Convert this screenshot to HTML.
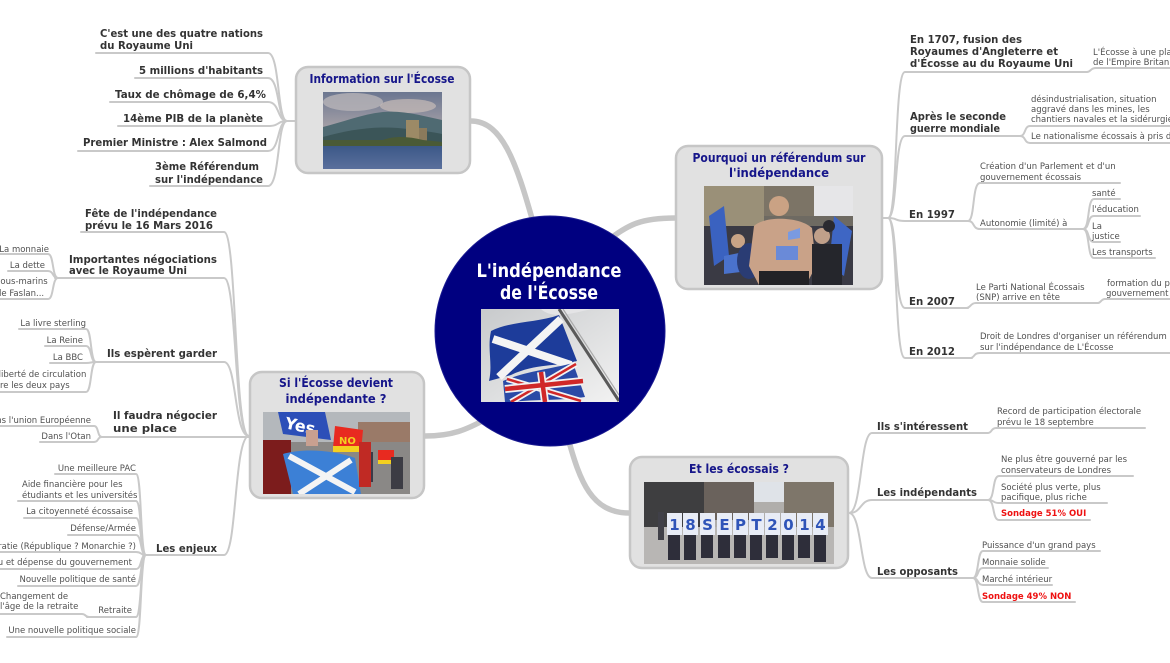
<!DOCTYPE html>
<html><head><meta charset="utf-8">
<style>
html,body{margin:0;padding:0;background:#fff;}
svg{display:block;}
.h{font-family:"DejaVu Sans","Liberation Sans",sans-serif;font-weight:bold;font-size:10.5px;fill:#333;}
.s{font-family:"DejaVu Sans","Liberation Sans",sans-serif;font-size:8.5px;fill:#505050;}
.r{font-family:"DejaVu Sans","Liberation Sans",sans-serif;font-weight:bold;font-size:8.5px;fill:#ee1111;}
.t{font-family:"DejaVu Sans","Liberation Sans",sans-serif;font-weight:bold;font-size:12.5px;fill:#16168a;}
.c{font-family:"DejaVu Sans","Liberation Sans",sans-serif;font-size:19px;fill:#fff;font-weight:600;}
.ln{fill:none;stroke:#c9c9c9;stroke-width:2;stroke-linecap:round;}
.th{fill:none;stroke:#c6c6c6;stroke-width:5.5;stroke-linecap:round;}
.e{text-anchor:end;}
</style></head>
<body>
<svg width="1170" height="663" viewBox="0 0 1170 663" xmlns="http://www.w3.org/2000/svg">
<defs>
<linearGradient id="sky1" x1="0" y1="0" x2="0" y2="1"><stop offset="0" stop-color="#6b7690"/><stop offset="0.5" stop-color="#a9a3a8"/><stop offset="1" stop-color="#c4b6a8"/></linearGradient>
<linearGradient id="wat" x1="0" y1="0" x2="0" y2="1"><stop offset="0" stop-color="#3c5888"/><stop offset="1" stop-color="#5a6f9c"/></linearGradient>
<linearGradient id="sky2" x1="0" y1="0" x2="1" y2="1"><stop offset="0" stop-color="#c8cacc"/><stop offset="1" stop-color="#f2f2f2"/></linearGradient>
</defs>

<!-- thick main connectors -->
<path class="th" d="M471,121 C502,121 516,162 533,222"/>
<path class="th" d="M675,218 C642,218 628,224 606,242"/>
<path class="th" d="M425,436 C452,436 466,430 488,418"/>
<path class="th" d="M568,438 C580,482 592,513 629,513"/>

<!-- Info children connectors -->
<path class="ln" d="M295,121 H284"/>
<path class="ln" d="M96,53 H268 C280,53 277,121 287,121"/>
<path class="ln" d="M135,78 H268 C280,78 277,121 287,121"/>
<path class="ln" d="M110,102 H268 C280,102 277,121 287,121"/>
<path class="ln" d="M118,126 H268 C280,126 277,121 287,121"/>
<path class="ln" d="M78,151 H268 C280,151 277,121 287,121"/>
<path class="ln" d="M150,186 H268 C280,186 277,121 287,121"/>

<!-- Si children connectors -->
<path class="ln" d="M81,232 H224 C237,232 234,436 249,436"/>
<path class="ln" d="M55,278 H224 C237,278 234,436 249,436"/>
<path class="ln" d="M93,362 H224 C237,362 234,436 249,436"/>
<path class="ln" d="M100,437 H249"/>
<path class="ln" d="M143,555 H224 C237,555 234,436 249,436"/>
<!-- Importantes subs -->
<path class="ln" d="M0,254 H48 C54,254 52,278 58,278"/>
<path class="ln" d="M8,271 H48 C54,271 52,278 58,278"/>
<path class="ln" d="M0,299 H48 C54,299 52,278 58,278"/>
<!-- Ils espèrent subs -->
<path class="ln" d="M19,329 H86 C92,329 90,362 96,362"/>
<path class="ln" d="M45,346 H86 C92,346 90,362 96,362"/>
<path class="ln" d="M50,363 H86 C92,363 90,362 96,362"/>
<path class="ln" d="M0,392 H86 C92,392 90,362 96,362"/>
<!-- Il faudra subs -->
<path class="ln" d="M0,426 H94 C99,426 97,437 102,437"/>
<path class="ln" d="M40,442 H94 C99,442 97,437 102,437"/>
<!-- Les enjeux subs -->
<path class="ln" d="M55,474 H136 C142,474 140,555 146,555"/>
<path class="ln" d="M18,501 H136 C142,501 140,555 146,555"/>
<path class="ln" d="M24,518 H136 C142,518 140,555 146,555"/>
<path class="ln" d="M68,535 H136 C142,535 140,555 146,555"/>
<path class="ln" d="M0,552 H136 C142,552 140,555 146,555"/>
<path class="ln" d="M0,569 H136 C142,569 140,555 146,555"/>
<path class="ln" d="M18,586 H136 C142,586 140,555 146,555"/>
<path class="ln" d="M87,617 H136 C142,617 140,555 146,555"/>
<path class="ln" d="M7,637 H136 C142,637 140,555 146,555"/>
<path class="ln" d="M0,614 H82 C86,614 85,617 89,617"/>

<!-- Pourquoi children connectors -->
<path class="ln" d="M883,218 H889"/>
<path class="ln" d="M888,218 C898,218 894,72 905,72 H1087 C1091,72 1090,68 1096,68 H1170"/>
<path class="ln" d="M888,218 C898,218 894,136 905,136 H1022"/>
<path class="ln" d="M888,218 C898,218 894,221 905,221 H970"/>
<path class="ln" d="M888,218 C898,218 894,308 905,308 H968"/>
<path class="ln" d="M888,218 C898,218 894,358 905,358 H972"/>
<path class="ln" d="M1020,136 C1026,136 1024,126 1030,126 H1170"/>
<path class="ln" d="M1020,136 C1026,136 1024,143 1030,143 H1170"/>
<path class="ln" d="M968,221 C975,221 972,183 980,183 H1120"/>
<path class="ln" d="M968,221 C975,221 972,229 980,229 H1085"/>
<path class="ln" d="M1083,229 C1090,229 1087,199 1094,199 H1120"/>
<path class="ln" d="M1083,229 C1090,229 1087,216 1094,216 H1140"/>
<path class="ln" d="M1083,229 C1090,229 1087,242 1094,242 H1120"/>
<path class="ln" d="M1083,229 C1090,229 1087,258 1094,258 H1155"/>
<path class="ln" d="M966,308 C971,308 970,303 976,303 H1098 C1101,303 1101,299 1105,299 H1170"/>
<path class="ln" d="M970,358 C975,358 973,353 980,353 H1170"/>

<!-- Et children connectors -->
<path class="ln" d="M849,513 C862,513 860,433 872,433 H988 C992,433 991,428 996,428 H1145"/>
<path class="ln" d="M849,513 C862,513 860,500 872,500 H990"/>
<path class="ln" d="M849,513 C862,513 860,578 872,578 H975"/>
<path class="ln" d="M988,500 C995,500 992,476 999,476 H1133"/>
<path class="ln" d="M988,500 C995,500 992,503 999,503 H1107"/>
<path class="ln" d="M988,500 C995,500 992,520 999,520 H1090"/>
<path class="ln" d="M973,578 C979,578 977,551 983,551 H1100"/>
<path class="ln" d="M973,578 C979,578 977,568 983,568 H1048"/>
<path class="ln" d="M973,578 C979,578 977,585 983,585 H1052"/>
<path class="ln" d="M973,578 C979,578 977,602 983,602 H1075"/>

<!-- Central circle -->
<circle cx="550" cy="331" r="115" fill="#000080" stroke="#1a1a90" stroke-width="1"/>
<text class="c" x="549" y="277" text-anchor="middle" textLength="145" lengthAdjust="spacingAndGlyphs">L'indépendance</text>
<text class="c" x="549" y="299" text-anchor="middle" textLength="98" lengthAdjust="spacingAndGlyphs">de l'Écosse</text>
<svg x="481" y="309" width="138" height="93">
 <rect width="138" height="93" fill="url(#sky2)"/>
 <path d="M0,0 H60 C70,10 90,5 110,0 H0 Z" fill="#e4e4e6"/>
 <path d="M10,22 C30,12 55,14 78,6 L96,52 C75,58 55,54 30,66 L8,72 C12,55 6,40 10,22 Z" fill="#1d3c9a"/>
 <path d="M12,30 L90,56 M80,10 L18,68" stroke="#f4f4f4" stroke-width="8"/>
 <path d="M22,72 C45,62 70,60 92,54 L104,88 C80,92 55,90 30,93 L24,93 Z" fill="#2a4aa6"/>
 <path d="M26,70 L100,92 M95,55 L30,93" stroke="#f2f2f2" stroke-width="6"/>
 <path d="M26,70 L100,92 M95,55 L30,93" stroke="#d02828" stroke-width="2.5"/>
 <path d="M60,63 L64,93 M24,80 L102,72" stroke="#f2f2f2" stroke-width="8"/>
 <path d="M60,63 L64,93 M24,80 L102,72" stroke="#d02828" stroke-width="4.5"/>
 <line x1="78" y1="0" x2="138" y2="92" stroke="#5a5a5a" stroke-width="3"/>
 <line x1="82" y1="0" x2="138" y2="86" stroke="#aaaaaa" stroke-width="1.2"/>
</svg>

<!-- Information node -->
<rect x="296" y="67" width="174" height="106" rx="12" ry="12" fill="#e1e1e1" stroke="#c6c6c6" stroke-width="2.5"/>
<text class="t" x="382" y="83" text-anchor="middle" textLength="145" lengthAdjust="spacingAndGlyphs">Information sur l'Écosse</text>
<svg x="323" y="92" width="119" height="77">
 <rect width="119" height="77" fill="url(#sky1)"/>
 <ellipse cx="30" cy="10" rx="30" ry="9" fill="#b8b4b8" opacity="0.8"/>
 <ellipse cx="85" cy="14" rx="28" ry="7" fill="#c8bcb8" opacity="0.7"/>
 <path d="M0,35 C20,30 40,22 60,20 C80,18 100,24 119,28 V55 H0 Z" fill="#4f6a72"/>
 <path d="M0,45 C25,38 50,34 75,36 C95,38 110,40 119,42 V55 H0 Z" fill="#3b5558"/>
 <rect x="83" y="28" width="13" height="22" fill="#9c8a66"/>
 <rect x="96" y="36" width="8" height="14" fill="#8a7a5c"/>
 <path d="M0,48 H60 C70,44 85,44 100,48 L119,50 V55 H0 Z" fill="#4a5a36"/>
 <rect x="0" y="54" width="119" height="23" fill="url(#wat)"/>
</svg>

<!-- Pourquoi node -->
<rect x="676" y="146" width="206" height="143" rx="12" ry="12" fill="#e1e1e1" stroke="#c6c6c6" stroke-width="2.5"/>
<text class="t" x="779" y="162" text-anchor="middle" textLength="173" lengthAdjust="spacingAndGlyphs">Pourquoi un référendum sur</text>
<text class="t" x="779" y="177" text-anchor="middle" textLength="100" lengthAdjust="spacingAndGlyphs">l'indépendance</text>
<svg x="704" y="186" width="149" height="99">
 <rect width="149" height="99" fill="#6e6a62"/>
 <rect x="0" y="0" width="60" height="40" fill="#9a9078"/>
 <rect x="60" y="0" width="50" height="30" fill="#7c7466"/>
 <rect x="110" y="0" width="39" height="30" fill="#e6e6e8"/>
 <rect x="0" y="40" width="149" height="59" fill="#3a3a44"/>
 <path d="M5,30 L20,20 L25,70 L10,80 Z" fill="#3a62c0"/>
 <path d="M130,30 L148,45 L140,90 L125,80 Z" fill="#3e66c4"/>
 <path d="M20,70 L45,65 L45,85 L20,88 Z" fill="#4a72cc"/>
 <circle cx="34" cy="55" r="7" fill="#c9a486"/>
 <ellipse cx="45" cy="75" rx="12" ry="18" fill="#2a3c74"/>
 <circle cx="75" cy="20" r="10" fill="#caa284"/>
 <path d="M50,40 C60,30 95,30 108,42 L112,80 L102,99 H55 L45,80 Z" fill="#c9a288"/>
 <rect x="72" y="60" width="22" height="14" fill="#6a8ad8"/>
 <path d="M84,46 L96,42 L96,52 L84,54 Z" fill="#7a9ae0"/>
 <rect x="55" y="85" width="50" height="14" fill="#222226"/>
 <circle cx="118" cy="50" r="8" fill="#c0a08a"/>
 <rect x="108" y="58" width="30" height="41" fill="#25262c"/>
 <circle cx="125" cy="40" r="6" fill="#2a2a30"/>
</svg>

<!-- Si node -->
<rect x="250" y="372" width="174" height="126" rx="12" ry="12" fill="#e1e1e1" stroke="#c6c6c6" stroke-width="2.5"/>
<text class="t" x="336" y="387" text-anchor="middle" textLength="114" lengthAdjust="spacingAndGlyphs">Si l'Écosse devient</text>
<text class="t" x="336" y="403" text-anchor="middle" textLength="101" lengthAdjust="spacingAndGlyphs">indépendante ?</text>
<svg x="263" y="412" width="147" height="82">
 <rect width="147" height="82" fill="#b4b8bc"/>
 <rect x="95" y="10" width="52" height="30" fill="#9a7a68"/>
 <rect x="0" y="30" width="147" height="52" fill="#8a8886"/>
 <rect x="0" y="28" width="28" height="54" fill="#7c1c1c"/>
 <path d="M15,0 L62,0 L68,28 L20,22 Z" fill="#2c4fb8"/>
 <text x="22" y="20" font-family="DejaVu Sans,sans-serif" font-weight="bold" font-size="16" fill="#fff" transform="rotate(12 40 14)">Yes</text>
 <rect x="43" y="18" width="12" height="16" fill="#c8a090"/>
 <path d="M72,14 L100,18 L98,40 L70,36 Z" fill="#e82a20"/>
 <rect x="70" y="34" width="28" height="6" fill="#f4d020"/>
 <text x="76" y="32" font-family="DejaVu Sans,sans-serif" font-weight="bold" font-size="10" fill="#f4d020">NO</text>
 <rect x="115" y="38" width="16" height="14" fill="#e82a20"/>
 <rect x="115" y="48" width="16" height="4" fill="#f4d020"/>
 <rect x="100" y="40" width="10" height="30" fill="#3a3a48"/>
 <rect x="128" y="45" width="12" height="32" fill="#3c3c44"/>
 <path d="M20,42 C40,36 70,38 92,46 L98,82 H30 Z" fill="#3c80d6"/>
 <path d="M26,44 L92,80 M88,48 L36,82" stroke="#f4f4f4" stroke-width="6"/>
 <rect x="96" y="30" width="12" height="45" fill="#c02a24"/>
</svg>

<!-- Et node -->
<rect x="630" y="457" width="218" height="111" rx="12" ry="12" fill="#e1e1e1" stroke="#c6c6c6" stroke-width="2.5"/>
<text class="t" x="739" y="473" text-anchor="middle" textLength="100" lengthAdjust="spacingAndGlyphs">Et les écossais ?</text>
<svg x="644" y="482" width="190" height="82">
 <rect width="190" height="82" fill="#b0aeab"/>
 <rect x="0" y="0" width="60" height="45" fill="#3e3e40"/>
 <rect x="60" y="0" width="50" height="38" fill="#6a625c"/>
 <rect x="110" y="0" width="30" height="20" fill="#dfe3e8"/>
 <rect x="140" y="0" width="50" height="45" fill="#7e766a"/>
 <rect x="0" y="45" width="190" height="37" fill="#b8b6b4"/>
 <rect x="14" y="30" width="6" height="28" fill="#404048"/>
 <g fill="#2e2e3a">
  <rect x="24" y="40" width="12" height="38"/><rect x="40" y="40" width="12" height="38"/><rect x="57" y="40" width="12" height="36"/>
  <rect x="74" y="40" width="12" height="36"/><rect x="90" y="40" width="12" height="36"/><rect x="106" y="40" width="12" height="38"/>
  <rect x="122" y="40" width="12" height="36"/><rect x="138" y="40" width="12" height="38"/><rect x="154" y="40" width="12" height="36"/>
  <rect x="170" y="40" width="12" height="40"/>
 </g>
 <g fill="#e8ecf6">
  <rect x="23" y="31" width="15" height="22"/><rect x="39" y="31" width="15" height="22"/><rect x="56" y="31" width="15" height="22"/>
  <rect x="73" y="31" width="15" height="22"/><rect x="89" y="31" width="15" height="22"/><rect x="105" y="31" width="15" height="22"/>
  <rect x="121" y="31" width="15" height="22"/><rect x="137" y="31" width="15" height="22"/><rect x="153" y="31" width="15" height="22"/>
  <rect x="169" y="31" width="15" height="22"/>
 </g>
 <g font-family="DejaVu Sans,sans-serif" font-weight="bold" font-size="15" fill="#2f54b8" text-anchor="middle">
  <text x="30.5" y="48">1</text><text x="46.5" y="48">8</text><text x="63.5" y="48">S</text><text x="80.5" y="48">E</text><text x="96.5" y="48">P</text>
  <text x="112.5" y="48">T</text><text x="128.5" y="48">2</text><text x="144.5" y="48">0</text><text x="160.5" y="48">1</text><text x="176.5" y="48">4</text>
 </g>
</svg>

<!-- Info child texts -->
<text class="h" x="100" y="37" textLength="163" lengthAdjust="spacingAndGlyphs">C'est une des quatre nations</text>
<text class="h" x="100" y="49" textLength="93" lengthAdjust="spacingAndGlyphs">du Royaume Uni</text>
<text class="h e" x="263" y="74" textLength="124" lengthAdjust="spacingAndGlyphs">5 millions d'habitants</text>
<text class="h e" x="266" y="98" textLength="151" lengthAdjust="spacingAndGlyphs">Taux de chômage de 6,4%</text>
<text class="h e" x="263" y="122" textLength="140" lengthAdjust="spacingAndGlyphs">14ème PIB de la planète</text>
<text class="h e" x="267" y="146" textLength="184" lengthAdjust="spacingAndGlyphs">Premier Ministre : Alex Salmond</text>
<text class="h" x="155" y="170" textLength="104" lengthAdjust="spacingAndGlyphs">3ème Référendum</text>
<text class="h" x="155" y="183" textLength="108" lengthAdjust="spacingAndGlyphs">sur l'indépendance</text>

<!-- Si child texts -->
<text class="h" x="85" y="217" textLength="132" lengthAdjust="spacingAndGlyphs">Fête de l'indépendance</text>
<text class="h" x="85" y="229" textLength="128" lengthAdjust="spacingAndGlyphs">prévu le 16 Mars 2016</text>
<text class="h" x="69" y="263" textLength="148" lengthAdjust="spacingAndGlyphs">Importantes négociations</text>
<text class="h" x="69" y="274" textLength="118" lengthAdjust="spacingAndGlyphs">avec le Royaume Uni</text>
<text class="h" x="107" y="357" textLength="110" lengthAdjust="spacingAndGlyphs">Ils espèrent garder</text>
<text class="h" x="113" y="419" textLength="104" lengthAdjust="spacingAndGlyphs">Il faudra négocier</text>
<text class="h" x="113" y="432" textLength="64" lengthAdjust="spacingAndGlyphs">une place</text>
<text class="h" x="156" y="552" textLength="61" lengthAdjust="spacingAndGlyphs">Les enjeux</text>

<text class="s e" x="49" y="252">La monnaie</text>
<text class="s e" x="45" y="268">La dette</text>
<text class="s" x="-4" y="284">sous-marins</text>
<text class="s" x="-4" y="296">de Faslan...</text>
<text class="s e" x="86" y="326">La livre sterling</text>
<text class="s e" x="83" y="343">La Reine</text>
<text class="s e" x="83" y="360">La BBC</text>
<text class="s" x="-14" y="377">La liberté de circulation</text>
<text class="s" x="-14" y="388">entre les deux pays</text>
<text class="s e" x="91" y="423">Dans l'union Européenne</text>
<text class="s e" x="91" y="439">Dans l'Otan</text>
<text class="s e" x="136" y="471">Une meilleure PAC</text>
<text class="s" x="22" y="487">Aide financière pour les</text>
<text class="s" x="22" y="498">étudiants et les universités</text>
<text class="s e" x="133" y="514">La citoyenneté écossaise</text>
<text class="s e" x="136" y="531">Défense/Armée</text>
<text class="s e" x="136" y="549">Démocratie (République ? Monarchie ?)</text>
<text class="s e" x="132" y="565">Revenu et dépense du gouvernement</text>
<text class="s e" x="136" y="582">Nouvelle politique de santé</text>
<text class="s" x="0" y="599">Changement de</text>
<text class="s" x="0" y="609">l'âge de la retraite</text>
<text class="s e" x="132" y="613">Retraite</text>
<text class="s e" x="136" y="633">Une nouvelle politique sociale</text>

<!-- Pourquoi child texts -->
<text class="h" x="910" y="43" textLength="112" lengthAdjust="spacingAndGlyphs">En 1707, fusion des</text>
<text class="h" x="910" y="55" textLength="148" lengthAdjust="spacingAndGlyphs">Royaumes d'Angleterre et</text>
<text class="h" x="910" y="67" textLength="163" lengthAdjust="spacingAndGlyphs">d'Écosse au du Royaume Uni</text>
<text class="s" x="1093" y="55">L'Écosse à une place</text>
<text class="s" x="1093" y="65">de l'Empire Britannique</text>
<text class="h" x="910" y="120" textLength="96" lengthAdjust="spacingAndGlyphs">Après le seconde</text>
<text class="h" x="910" y="132" textLength="90" lengthAdjust="spacingAndGlyphs">guerre mondiale</text>
<text class="s" x="1031" y="102">désindustrialisation, situation</text>
<text class="s" x="1031" y="112">aggravé dans les mines, les</text>
<text class="s" x="1031" y="122">chantiers navales et la sidérurgie</text>
<text class="s" x="1031" y="139">Le nationalisme écossais à pris de l'ampleur</text>
<text class="h" x="909" y="218" textLength="46" lengthAdjust="spacingAndGlyphs">En 1997</text>
<text class="s" x="980" y="169">Création d'un Parlement et d'un</text>
<text class="s" x="980" y="180">gouvernement écossais</text>
<text class="s" x="980" y="226">Autonomie (limité) à</text>
<text class="s" x="1092" y="196">santé</text>
<text class="s" x="1092" y="212">l'éducation</text>
<text class="s" x="1092" y="229">La</text>
<text class="s" x="1092" y="239">justice</text>
<text class="s" x="1092" y="255">Les transports</text>
<text class="h" x="909" y="305" textLength="46" lengthAdjust="spacingAndGlyphs">En 2007</text>
<text class="s" x="976" y="290">Le Parti National Écossais</text>
<text class="s" x="976" y="300">(SNP) arrive en tête</text>
<text class="s" x="1107" y="286">formation du premier</text>
<text class="s" x="1106" y="296">gouvernement</text>
<text class="h" x="909" y="355" textLength="46" lengthAdjust="spacingAndGlyphs">En 2012</text>
<text class="s" x="980" y="339">Droit de Londres d'organiser un référendum</text>
<text class="s" x="980" y="350">sur l'indépendance de L'Écosse</text>

<!-- Et child texts -->
<text class="h" x="877" y="430" textLength="91" lengthAdjust="spacingAndGlyphs">Ils s'intéressent</text>
<text class="s" x="997" y="414">Record de participation électorale</text>
<text class="s" x="997" y="425">prévu le 18 septembre</text>
<text class="h" x="877" y="496" textLength="100" lengthAdjust="spacingAndGlyphs">Les indépendants</text>
<text class="s" x="1001" y="462">Ne plus être gouverné par les</text>
<text class="s" x="1001" y="473">conservateurs de Londres</text>
<text class="s" x="1001" y="490">Société plus verte, plus</text>
<text class="s" x="1001" y="500">pacifique, plus riche</text>
<text class="r" x="1001" y="516">Sondage 51% OUI</text>
<text class="h" x="877" y="575" textLength="81" lengthAdjust="spacingAndGlyphs">Les opposants</text>
<text class="s" x="982" y="548">Puissance d'un grand pays</text>
<text class="s" x="982" y="565">Monnaie solide</text>
<text class="s" x="982" y="582">Marché intérieur</text>
<text class="r" x="982" y="599">Sondage 49% NON</text>
</svg>
</body></html>
